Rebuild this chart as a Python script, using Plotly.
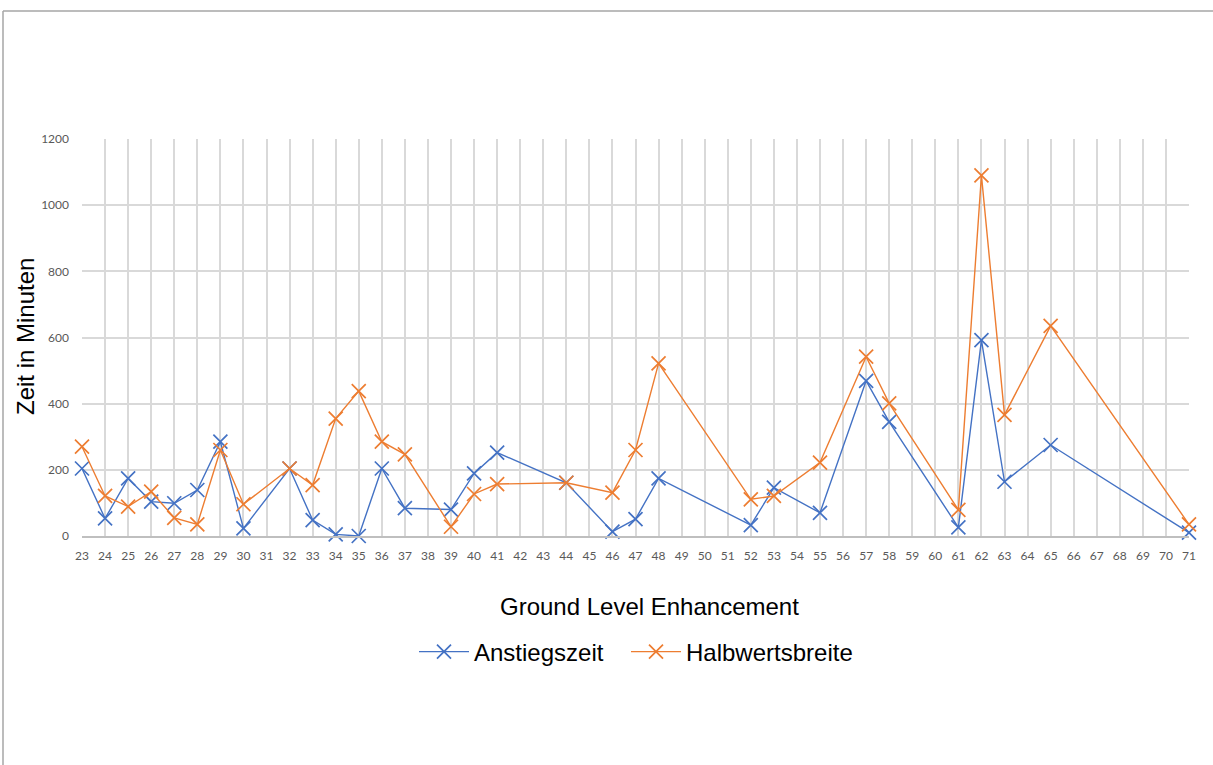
import plotly.graph_objects as go

# GLE event numbers shown on the category axis
gle_labels = [str(n) for n in range(23, 72)]

# Events with measured values (others are left empty and bridged by the line)
anstieg_events = [23, 24, 25, 26, 27, 28, 29, 30, 32, 33, 34, 35, 36, 37, 39, 40, 41,
                  44, 46, 47, 48, 52, 53, 55, 57, 58, 61, 62, 63, 65, 71]
anstiegszeit = [204, 53, 174, 104, 99, 139, 285, 23, 204, 48, 5, 0, 204, 84, 80, 189, 252,
                161, 13, 51, 174, 33, 146, 70, 469, 345, 26, 592, 164, 275, 10]

halbwert_events = [23, 24, 25, 26, 27, 28, 29, 30, 32, 33, 34, 35, 36, 37, 39, 40, 41,
                   44, 46, 47, 48, 52, 53, 55, 57, 58, 61, 62, 63, 65, 71]
halbwertsbreite = [270, 121, 89, 134, 55, 35, 260, 96, 204, 154, 355, 438, 285, 247, 28, 127, 157,
                   161, 131, 260, 522, 111, 121, 222, 542, 401, 79, 1090, 366, 635, 35]

y_ticks = [0, 200, 400, 600, 800, 1000, 1200]


def on_axis(events, values):
    lookup = dict(zip(events, values))
    return [lookup.get(int(lbl)) for lbl in gle_labels]


BLUE = "#4472C4"
ORANGE = "#ED7D31"

fig = go.Figure()
for name, events, vals, col, leg in [
    ("Anstiegszeit", anstieg_events, anstiegszeit, BLUE, "legend"),
    ("Halbwertsbreite", halbwert_events, halbwertsbreite, ORANGE, "legend2"),
]:
    fig.add_trace(go.Scatter(
        x=gle_labels,
        y=on_axis(events, vals),
        name=name,
        legend=leg,
        mode="lines+markers",
        connectgaps=True,
        cliponaxis=False,
        line=dict(color=col, width=1.4),
        marker=dict(symbol="x-thin", size=14, line=dict(color=col, width=1.7), color=col),
    ))

L, R, T, B = 82, 24, 139, 229
W, H = 1213, 765
pw, ph = W - L - R, H - T - B

def px_x(p):
    return (p - L) / pw

def px_y(p):
    return (H - B - p) / ph

TITLE_FONT = dict(family="Liberation Sans, Arial, sans-serif", size=24, color="#000000")
TICK_FONT = dict(family="Lato, Open Sans, sans-serif", size=12, color="#595959")

legend_style = dict(
    orientation="h",
    xanchor="left",
    y=px_y(652), yanchor="middle",
    font=TITLE_FONT,
    itemwidth=50,
    bgcolor="rgba(0,0,0,0)",
)

fig.update_layout(
    width=W, height=H,
    margin=dict(l=L, r=R, t=T, b=B, pad=0),
    paper_bgcolor="white",
    plot_bgcolor="white",
    showlegend=True,
    legend=dict(x=px_x(414), **legend_style),
    legend2=dict(x=px_x(626), **legend_style),
    xaxis=dict(
        type="category",
        categoryorder="array",
        categoryarray=gle_labels,
        range=[0, len(gle_labels) - 1],
        showgrid=True,
        gridcolor="#d9d9d9",
        gridwidth=1.6,
        showline=True,
        linecolor="#bfbfbf",
        linewidth=1.6,
        ticks="",
        ticklabelstandoff=8,
        tickfont=TICK_FONT,
        tickangle=0,
        fixedrange=True,
    ),
    yaxis=dict(
        range=[0, 1200],
        tickvals=y_ticks,
        showgrid=True,
        gridcolor="#d9d9d9",
        gridwidth=1.6,
        zeroline=False,
        showline=False,
        ticks="",
        ticklabelstandoff=12,
        tickfont=TICK_FONT,
        fixedrange=True,
    ),
    annotations=[
        dict(text="Ground Level Enhancement", xref="paper", yref="paper",
             x=px_x(649), y=px_y(606), xanchor="center", yanchor="middle",
             showarrow=False, font=TITLE_FONT),
        dict(text="Zeit in Minuten", xref="paper", yref="paper",
             x=px_x(25), y=px_y(337), xanchor="center", yanchor="middle",
             textangle=-90, showarrow=False, font=TITLE_FONT),
    ],
    shapes=[
        # outer chart frame (top and left edges)
        dict(type="line", xref="paper", yref="paper",
             x0=px_x(3), x1=px_x(W + 5), y0=px_y(11), y1=px_y(11),
             line=dict(color="#a6a6a6", width=1.5)),
        dict(type="line", xref="paper", yref="paper",
             x0=px_x(3), x1=px_x(3), y0=px_y(11), y1=px_y(H + 5),
             line=dict(color="#a6a6a6", width=1.5)),
    ],
)

fig.write_html("out.html")
